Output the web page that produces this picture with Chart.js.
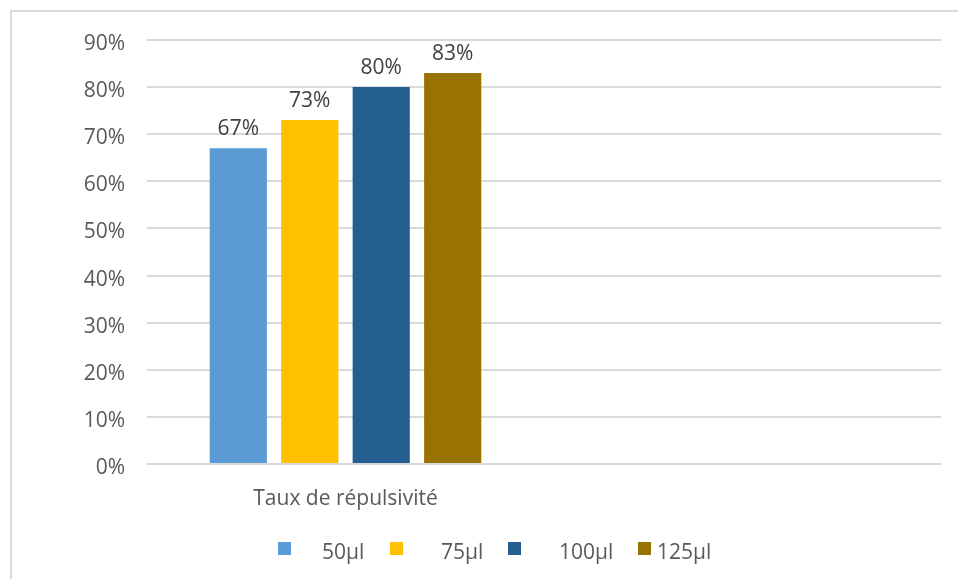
<!DOCTYPE html>
<html>
<head>
<meta charset="utf-8">
<script src="https://cdn.jsdelivr.net/npm/chart.js@4.4.0/dist/chart.umd.min.js"></script>
<style>
  html, body { margin: 0; padding: 0; background: #fff; }
  #wrap { position: relative; width: 958px; height: 579px; overflow: hidden; font-family: "Open Sans", sans-serif; }
  #frame { position: absolute; left: 10px; top: 10px; width: 960px; height: 600px; border: 2px solid #d9d9d9; box-sizing: border-box; }
  #chart { position: absolute; left: 0; top: 0; }
  #legend { position: absolute; top: 537px; left: 0; width: 958px; height: 28px; }
  .box { position: absolute; top: 5px; width: 13px; height: 13px; }
  .lbl { position: absolute; top: 0; font-size: 21px; color: #595959; line-height: 28px; white-space: nowrap; }
</style>
</head>
<body>
<div id="wrap">
  <div id="frame"></div>
  <canvas id="chart" width="958" height="579"></canvas>
  <div id="legend"></div>
</div>
<script>
const Categories = ['Taux de répulsivité', ''];
const Series = ['50µl', '75µl', '100µl', '125µl'];
const Values = [67, 73, 80, 83];
const Colors = ['#5B9BD5', '#FFC000', '#255E91', '#997300'];
const YTicks = [0, 10, 20, 30, 40, 50, 60, 70, 80, 90];

// legend layout (box left, text left) like the Excel export
const LegendBox = [278, 390, 508, 638];
const LegendText = [322, 441, 559, 657];

// values printed above every bar
const barLabels = {
  id: 'barLabels',
  afterDatasetsDraw(chart) {
    const ctx = chart.ctx;
    ctx.save();
    ctx.font = '21px "Open Sans"';
    ctx.fillStyle = '#404040';
    ctx.textAlign = 'center';
    ctx.textBaseline = 'alphabetic';
    chart.data.datasets.forEach(function(ds, i) {
      const bar = chart.getDatasetMeta(i).data[0];
      ctx.fillText(ds.data[0] + '%', bar.x, bar.y - 13);
    });
    ctx.restore();
  }
};

function buildLegend() {
  const el = document.getElementById('legend');
  Series.forEach(function(name, i) {
    const box = document.createElement('div');
    box.className = 'box';
    box.style.left = LegendBox[i] + 'px';
    box.style.background = Colors[i];
    el.appendChild(box);
    const txt = document.createElement('div');
    txt.className = 'lbl';
    txt.style.left = LegendText[i] + 'px';
    txt.textContent = name;
    el.appendChild(txt);
  });
}

function CreateBarChart() {
  const ctx = document.getElementById('chart').getContext('2d');
  const datasets = Series.map(function(name, i) {
    return {
      label: name,
      data: [Values[i], null],
      backgroundColor: Colors[i],
      borderWidth: 0,
      categoryPercentage: 0.72,
      barPercentage: 0.8
    };
  });
  new Chart(ctx, {
    type: 'bar',
    data: { labels: Categories, datasets: datasets },
    options: {
      responsive: false,
      animation: false,
      layout: { padding: { left: 0, right: 17, top: 40, bottom: 0 } },
      plugins: { legend: { display: false }, tooltip: { enabled: false } },
      scales: {
        x: {
          grid: { display: false, drawTicks: false },
          border: { display: false },
          ticks: { color: '#595959', font: { family: 'Open Sans', size: 21 }, padding: 22 },
          afterFit: function(scale) { scale.height = 115; }
        },
        y: {
          min: 0,
          max: 90,
          afterBuildTicks: function(scale) { scale.ticks = YTicks.map(function(v) { return { value: v }; }); },
          grid: { color: '#d9d9d9', lineWidth: 2, drawTicks: false },
          border: { display: false },
          ticks: {
            color: '#595959',
            font: { family: 'Open Sans', size: 21 },
            padding: 22,
            labelOffset: 4,
            callback: function(v) { return v + '%'; }
          },
          afterFit: function(scale) { scale.width = 147; }
        }
      }
    },
    plugins: [barLabels]
  });
}

buildLegend();
CreateBarChart();
</script>
</body>
</html>
